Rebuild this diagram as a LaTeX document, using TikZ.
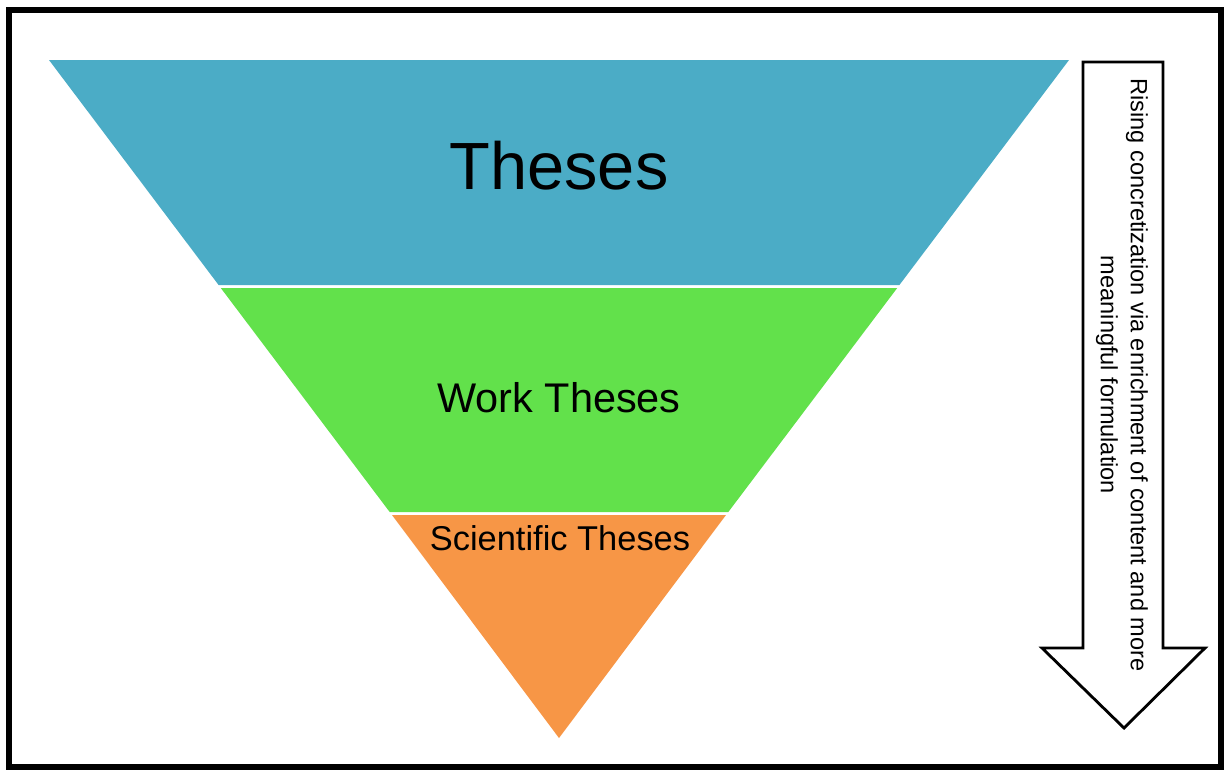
\documentclass[tikz,border=0pt]{standalone}
\usepackage{fontspec}
\setmainfont{Liberation Sans}
\usetikzlibrary{positioning}

\definecolor{thesesblue}{HTML}{4BACC6}
\definecolor{workgreen}{HTML}{62E14B}
\definecolor{sciorange}{HTML}{F79646}

\begin{document}
\begin{tikzpicture}[x=0.02cm, y=-0.02cm, band/.style={draw=none}, label/.style={inner sep=0pt, text=black}]
\useasboundingbox (0,0) rectangle (1226,769);
\draw[line width=3pt] (9,10) rectangle (1221,767);

\coordinate (tl) at (49,60);
\coordinate (tr) at (1069,60);
\coordinate (apex) at (559,738);

\fill[thesesblue] (tl) -- (tr) -- (899.4,285) -- (218.6,285) -- cycle;
\fill[workgreen] (220.8,288) -- (897.2,288) -- (728.3,512) -- (389.7,512) -- cycle;
\fill[sciorange] (392,515) -- (726,515) -- (apex) -- cycle;

\node[label, font=\fontsize{38}{44}\selectfont] (theses) at (559,166) {Theses};
\node[label, font=\fontsize{23.6}{28}\selectfont] (work) at (559,398) {Work Theses};
\node[label, font=\fontsize{19.6}{24}\selectfont] (sci) at (560,538) {Scientific Theses};

% arrow on the right
\draw[line width=1.6pt, fill=white, line join=miter]
  (1083,62) -- (1163,62) -- (1163,648) -- (1205,648) -- (1124,728)
  -- (1042,648) -- (1083,648) -- cycle;
\node[label, rotate=-90, align=center, font=\fontsize{13.4}{17}\selectfont] (note) at (1122,375)
  {Rising concretization via enrichment of content and more\\meaningful formulation};
\end{tikzpicture}
\end{document}
